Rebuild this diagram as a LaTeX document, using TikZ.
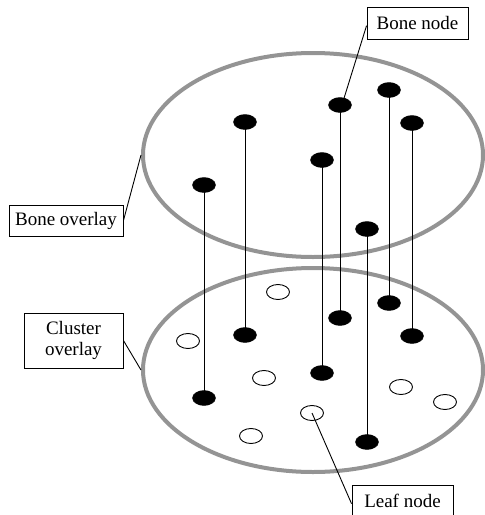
\documentclass[tikz,border=0pt]{standalone}
\usepackage{fontspec}
\setmainfont{Liberation Serif}
\usetikzlibrary{shapes.geometric}
\begin{document}
\begin{tikzpicture}[x=1pt,y=-1pt,
  overlay ring/.style={draw=black!42, line width=4pt, ellipse, inner sep=0pt,
    minimum width=340pt, minimum height=204pt},
  bonept/.style={ellipse, fill=black, draw=black, inner sep=0pt,
    minimum width=23pt, minimum height=15pt},
  leafpt/.style={ellipse, fill=white, draw=black, line width=0.9pt, inner sep=0pt,
    minimum width=23pt, minimum height=15pt},
  label box/.style={draw=black, line width=0.9pt, fill=white, inner sep=0pt,
    font=\fontsize{19}{21}\selectfont, align=center},
  link/.style={draw=black, line width=0.9pt},
  pole/.style={draw=black, line width=1pt}]
\useasboundingbox (0,0) rectangle (485,515);

% the two overlays
\node[overlay ring] (up)  at (313,155) {};
\node[overlay ring] (low) at (313,370) {};

% bone nodes: each one sits in the bone overlay and again in the cluster overlay
\foreach \n/\x/\y in {1/204/185, 2/245/122, 3/322/160, 4/340/105, 5/367/229, 6/389/90, 7/412/123}{
  \coordinate (ua\n) at (\x,\y);
  \coordinate (la\n) at (\x,\y+213);
  \draw[pole] (ua\n) -- (la\n);
}
\foreach \n in {1,...,7}{
  \node[bonept] (ub\n) at (ua\n) {};
  \node[bonept] (lb\n) at (la\n) {};
}

% leaf nodes of the cluster overlay
\foreach \n/\x/\y in {1/278/292, 2/188/341, 3/264/378, 4/401/387, 5/445/402, 6/312/413, 7/251/436}{
  \node[leafpt] (lf\n) at (\x,\y) {};
}

% labels
\node[label box, minimum width=101pt, minimum height=32pt] (bn) at (417.5,23) {Bone node};
\node[label box, minimum width=114pt, minimum height=31pt] (bo) at (66,220.5) {Bone overlay};
\node[label box, minimum width=99pt, minimum height=55pt] (co) at (73.5,340.5) {Cluster\\overlay};
\node[label box, minimum width=101pt, minimum height=32pt] (ln) at (402.5,501) {Leaf node};

% label leaders
\draw[link] (bn.183) -- (ub4.60);
\draw[link] (bo.east) -- (up.west);
\draw[link] (co.east) -- (low.west);
\draw[link] (lf6.center) -- (ln.183);
\end{tikzpicture}
\end{document}
